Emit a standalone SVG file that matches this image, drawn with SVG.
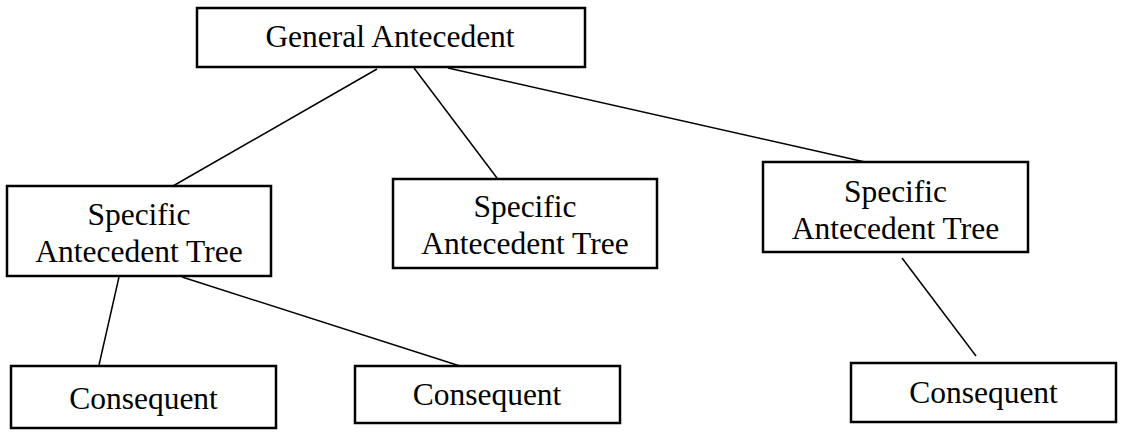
<svg xmlns="http://www.w3.org/2000/svg" width="1121" height="439" viewBox="0 0 1121 439">
<style>
.box{fill:#fff;stroke:#000;stroke-width:2.5}
.t{font-family:"Liberation Serif","Times New Roman",serif;font-size:31.5px;fill:#000;text-anchor:middle}
.c line{stroke:#000;stroke-width:1.5}
</style>
<rect width="1121" height="439" fill="#fff"/>
<g class="c" id="connectors">
<line x1="377" y1="69" x2="173" y2="186"/>
<line x1="414" y1="68" x2="497" y2="178"/>
<line x1="448" y1="68" x2="865" y2="162"/>
<line x1="119" y1="277" x2="99" y2="365"/>
<line x1="182" y1="277" x2="460" y2="366"/>
<line x1="902" y1="258" x2="976" y2="356"/>
</g>
<g id="general">
<rect class="box" x="197" y="8" width="388" height="59"/>
<text class="t" x="390" y="47">General Antecedent</text>
</g>
<g id="specific1">
<rect class="box" x="7" y="186" width="264" height="90"/>
<text class="t" x="139" y="225">Specific</text>
<text class="t" x="139" y="262">Antecedent Tree</text>
</g>
<g id="specific2">
<rect class="box" x="393" y="179" width="264" height="89"/>
<text class="t" x="525" y="217">Specific</text>
<text class="t" x="525" y="254">Antecedent Tree</text>
</g>
<g id="specific3">
<rect class="box" x="763" y="162" width="265" height="90"/>
<text class="t" x="895.5" y="202">Specific</text>
<text class="t" x="895.5" y="239">Antecedent Tree</text>
</g>
<g id="consequent1">
<rect class="box" x="11" y="366" width="265" height="62"/>
<text class="t" x="143.5" y="409">Consequent</text>
</g>
<g id="consequent2">
<rect class="box" x="355" y="366" width="265" height="57"/>
<text class="t" x="487" y="405">Consequent</text>
</g>
<g id="consequent3">
<rect class="box" x="851" y="363" width="265" height="59"/>
<text class="t" x="983.5" y="403">Consequent</text>
</g>
</svg>
